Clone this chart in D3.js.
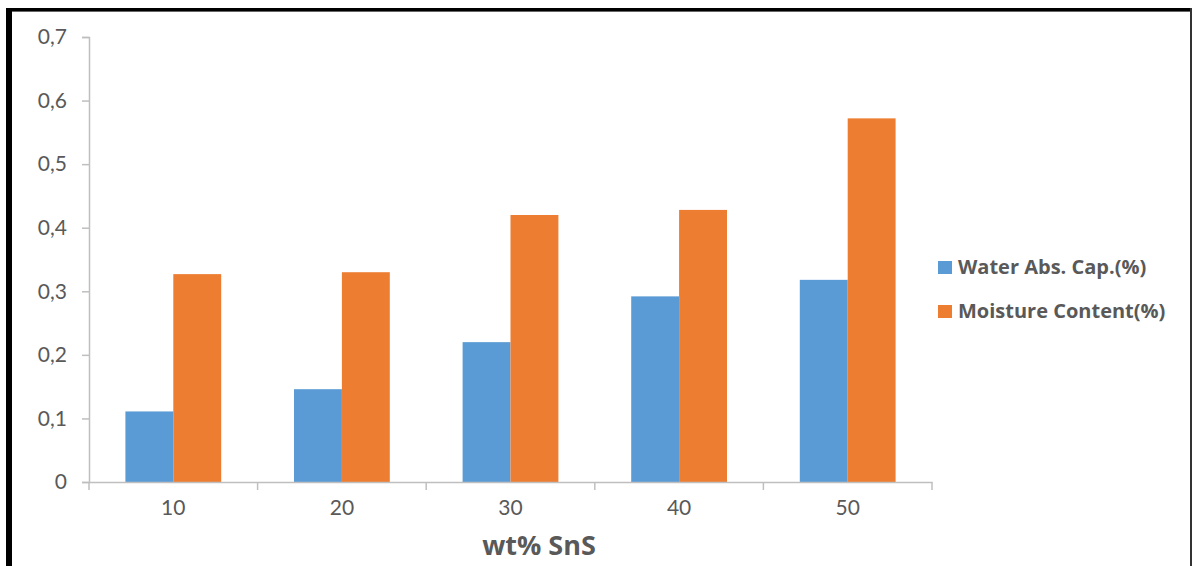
<!DOCTYPE html>
<html>
<head>
<meta charset="utf-8">
<script src="https://cdn.jsdelivr.net/npm/d3@7"></script>
<style>
  body { margin: 0; background: #fff; }
  svg { display: block; }
  svg text { font-family: Lato, "Open Sans", sans-serif; }
</style>
</head>
<body>
<div id="chart"></div>
<script>
// data
let categories = ["10", "20", "30", "40", "50"];
let seriesNames = ["Water Abs. Cap.(%)", "Moisture Content(%)"];
let waterAbs = [0.111, 0.146, 0.220, 0.292, 0.318];
let moisture = [0.327, 0.330, 0.420, 0.428, 0.572];
let yTicks = [0, 0.1, 0.2, 0.3, 0.4, 0.5, 0.6, 0.7];
let colors = ["#5B9BD5", "#ED7D31"];

let width = 1192, height = 566;
let margin = {top: 37, right: 260, bottom: 84, left: 89};

let svg = d3.select("#chart").append("svg")
  .attr("width", width)
  .attr("height", height);

// frame
svg.append("rect").attr("x", 6).attr("y", 8).attr("width", 6).attr("height", height).attr("fill", "#000");
svg.append("rect").attr("x", 6).attr("y", 8).attr("width", width - 6).attr("height", 3).attr("fill", "#000");
svg.append("rect").attr("x", 12).attr("y", 11).attr("width", width - 12).attr("height", 1).attr("fill", "#666");
svg.append("rect").attr("x", 1190).attr("y", 8).attr("width", 2).attr("height", height).attr("fill", "#333");

let x = d3.scaleBand()
  .domain(categories)
  .range([margin.left, width - margin.right])
  .paddingInner(0)
  .paddingOuter(0);

let xInner = d3.scaleBand()
  .domain([0, 1])
  .range([0, x.bandwidth()])
  .paddingInner(0)
  .paddingOuter(0.76);

let y = d3.scaleLinear()
  .domain([0, 0.7])
  .range([height - margin.bottom, margin.top]);

let fmt = d => d === 0 ? "0" : d3.format(".1f")(d).replace(".", ",");

// y axis
let yAxis = svg.append("g")
  .attr("transform", `translate(${margin.left},0)`)
  .call(d3.axisLeft(y).tickValues(yTicks).tickSize(7).tickFormat(fmt));
yAxis.select(".domain").attr("stroke", "#BFBFBF").attr("stroke-width", 1.5);
yAxis.selectAll(".tick line").attr("stroke", "#BFBFBF").attr("stroke-width", 1.5);
yAxis.selectAll("text")
  .attr("x", -22)
  .attr("fill", "#595959")
  .style("font-size", "21px");

// bars
let rows = categories.map((c, i) => ({cat: c, vals: [waterAbs[i], moisture[i]]}));
let groups = svg.selectAll(".grp")
  .data(rows)
  .enter().append("g")
  .attr("transform", d => `translate(${x(d.cat)},0)`);

groups.selectAll("rect")
  .data(d => d.vals.map((v, k) => ({k: k, v: v})))
  .enter().append("rect")
  .attr("x", d => xInner(d.k))
  .attr("width", xInner.bandwidth())
  .attr("y", d => y(d.v))
  .attr("height", d => y(0) - y(d.v))
  .attr("fill", d => colors[d.k]);

// x axis
let xAxis = svg.append("g")
  .attr("transform", `translate(0,${height - margin.bottom})`)
  .call(d3.axisBottom(x).tickSize(0).tickSizeOuter(0));
xAxis.select(".domain").attr("stroke", "#BFBFBF").attr("stroke-width", 1.5);
xAxis.selectAll("text")
  .attr("y", 18)
  .attr("fill", "#595959")
  .style("font-size", "21px");

// category boundary ticks
let bounds = categories.map(c => x(c)).concat([x(categories[categories.length - 1]) + x.bandwidth()]);
svg.append("g").selectAll("line")
  .data(bounds)
  .enter().append("line")
  .attr("x1", d => d).attr("x2", d => d)
  .attr("y1", y(0)).attr("y2", y(0) + 8)
  .attr("stroke", "#BFBFBF").attr("stroke-width", 1.5);

// axis title
svg.append("text")
  .attr("x", 539)
  .attr("y", 555)
  .attr("text-anchor", "middle")
  .attr("fill", "#595959")
  .style("font-family", "'Open Sans', sans-serif")
  .style("font-size", "27px")
  .style("font-weight", "bold")
  .text("wt% SnS");

// legend
let legend = svg.append("g").attr("transform", "translate(938,267)");
let items = legend.selectAll("g")
  .data(seriesNames)
  .enter().append("g")
  .attr("transform", (d, i) => `translate(0,${i * 44})`);
items.append("rect")
  .attr("x", 0).attr("y", -6)
  .attr("width", 14).attr("height", 13)
  .attr("fill", (d, i) => colors[i]);
items.append("text")
  .attr("x", 20).attr("y", 0)
  .attr("dy", "0.35em")
  .attr("fill", "#595959")
  .style("font-family", "'Open Sans', sans-serif")
  .style("font-size", "20px")
  .style("font-weight", "bold")
  .text(d => d);
</script>
</body>
</html>
